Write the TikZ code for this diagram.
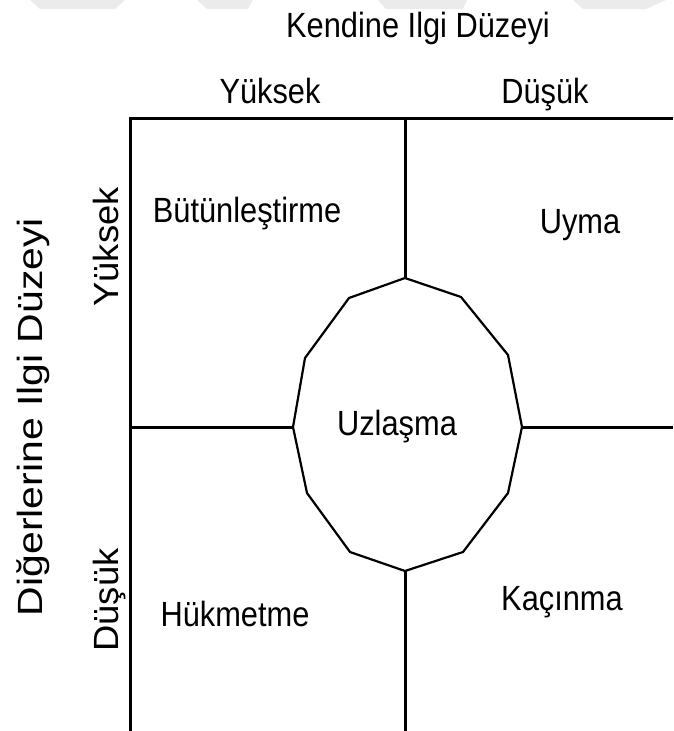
\documentclass[tikz,border=0pt]{standalone}
\usepackage{fontspec}
\setmainfont{Liberation Sans}
\newfontfamily\cellfont[FakeStretch=0.88]{Liberation Sans}
\newfontfamily\sidefont[FakeStretch=1.04]{Liberation Sans}
\newfontfamily\axisfont[FakeStretch=1.17]{Liberation Sans}
\tikzset{
  frame line/.style={line width=3pt},
  oval line/.style={line width=2.2pt, line join=miter},
  mark shade/.style={fill=black!8, draw=none},
  cell label/.style={inner sep=0pt, anchor=base, font=\cellfont\fontsize{35}{35}\selectfont},
  side label/.style={inner sep=0pt, anchor=base, rotate=90, font=\sidefont\fontsize{35}{35}\selectfont},
  axis label/.style={inner sep=0pt, anchor=base, rotate=90, font=\axisfont\fontsize{35}{35}\selectfont}
}

\begin{document}
\begin{tikzpicture}[x=1pt, y=-1pt]
			%%%%% START %%%%%
			\useasboundingbox (0, 0) rectangle (673, 731);
			
			% faint marks at the top edge
			\fill[mark shade] (30, 0) -- (125, 0) -- (115, 9) -- (40, 9) -- cycle;
			\fill[mark shade] (197, 0) -- (253, 0) -- (248, 9) -- (207, 9) -- cycle;
			\fill[mark shade] (378, 0) -- (467, 0) -- (463, 9) -- (386, 9) -- cycle;
			\fill[mark shade] (573, 0) -- (666, 0) -- (646, 9) -- (583, 9) -- cycle;
			
			% end points of the frame
			\coordinate (frame nw) at (130, 118);
			\coordinate (frame ne) at (673, 118);
			\coordinate (frame sw) at (130, 731);
			\coordinate (mid n) at (405, 118);
			\coordinate (mid s) at (405, 731);
			\coordinate (mid w) at (130, 427);
			\coordinate (mid e) at (673, 427);
			
			% corners of the middle oval
			\coordinate (oval n) at (405, 278);
			\coordinate (oval nne) at (461, 297);
			\coordinate (oval ene) at (508, 355);
			\coordinate (oval e) at (522, 427);
			\coordinate (oval ese) at (508, 493);
			\coordinate (oval sse) at (463, 552);
			\coordinate (oval s) at (405, 571);
			\coordinate (oval ssw) at (350, 552);
			\coordinate (oval wsw) at (307, 493);
			\coordinate (oval w) at (293, 427);
			\coordinate (oval wnw) at (305, 358);
			\coordinate (oval nnw) at (349, 298);
			
			\draw[frame line] (frame ne) -- (frame nw) -- (frame sw);
			\draw[frame line] (mid n) -- (oval n);
			\draw[frame line] (oval s) -- (mid s);
			\draw[frame line] (mid w) -- (oval w);
			\draw[frame line] (oval e) -- (mid e);
			
			\draw[oval line] (oval n) -- (oval nne) -- (oval ene) -- (oval e) -- (oval ese) -- (oval sse)
				-- (oval s) -- (oval ssw) -- (oval wsw) -- (oval w) -- (oval wnw) -- (oval nnw) -- cycle;
			
			% headings
			\node[cell label] (self) at (418, 37) {Kendine Ilgi Düzeyi};
			\node[cell label] (self high) at (270, 103) {Yüksek};
			\node[cell label] (self low) at (545, 103) {Düşük};
			
			\node[axis label] (other) at (42, 417) {Diğerlerine Ilgi Düzeyi};
			\node[side label] (other high) at (118, 247) {Yüksek};
			\node[side label] (other low) at (118, 600) {Düşük};
			
			% styles in the cells
			\node[cell label] (integrating) at (247, 222) {Bütünleştirme};
			\node[cell label] (obliging) at (580, 233) {Uyma};
			\node[cell label] (compromising) at (397, 435) {Uzlaşma};
			\node[cell label] (dominating) at (235, 626) {Hükmetme};
			\node[cell label] (avoiding) at (562, 610) {Kaçınma};
			
			%%%%% END %%%%%
\end{tikzpicture}
\end{document}
